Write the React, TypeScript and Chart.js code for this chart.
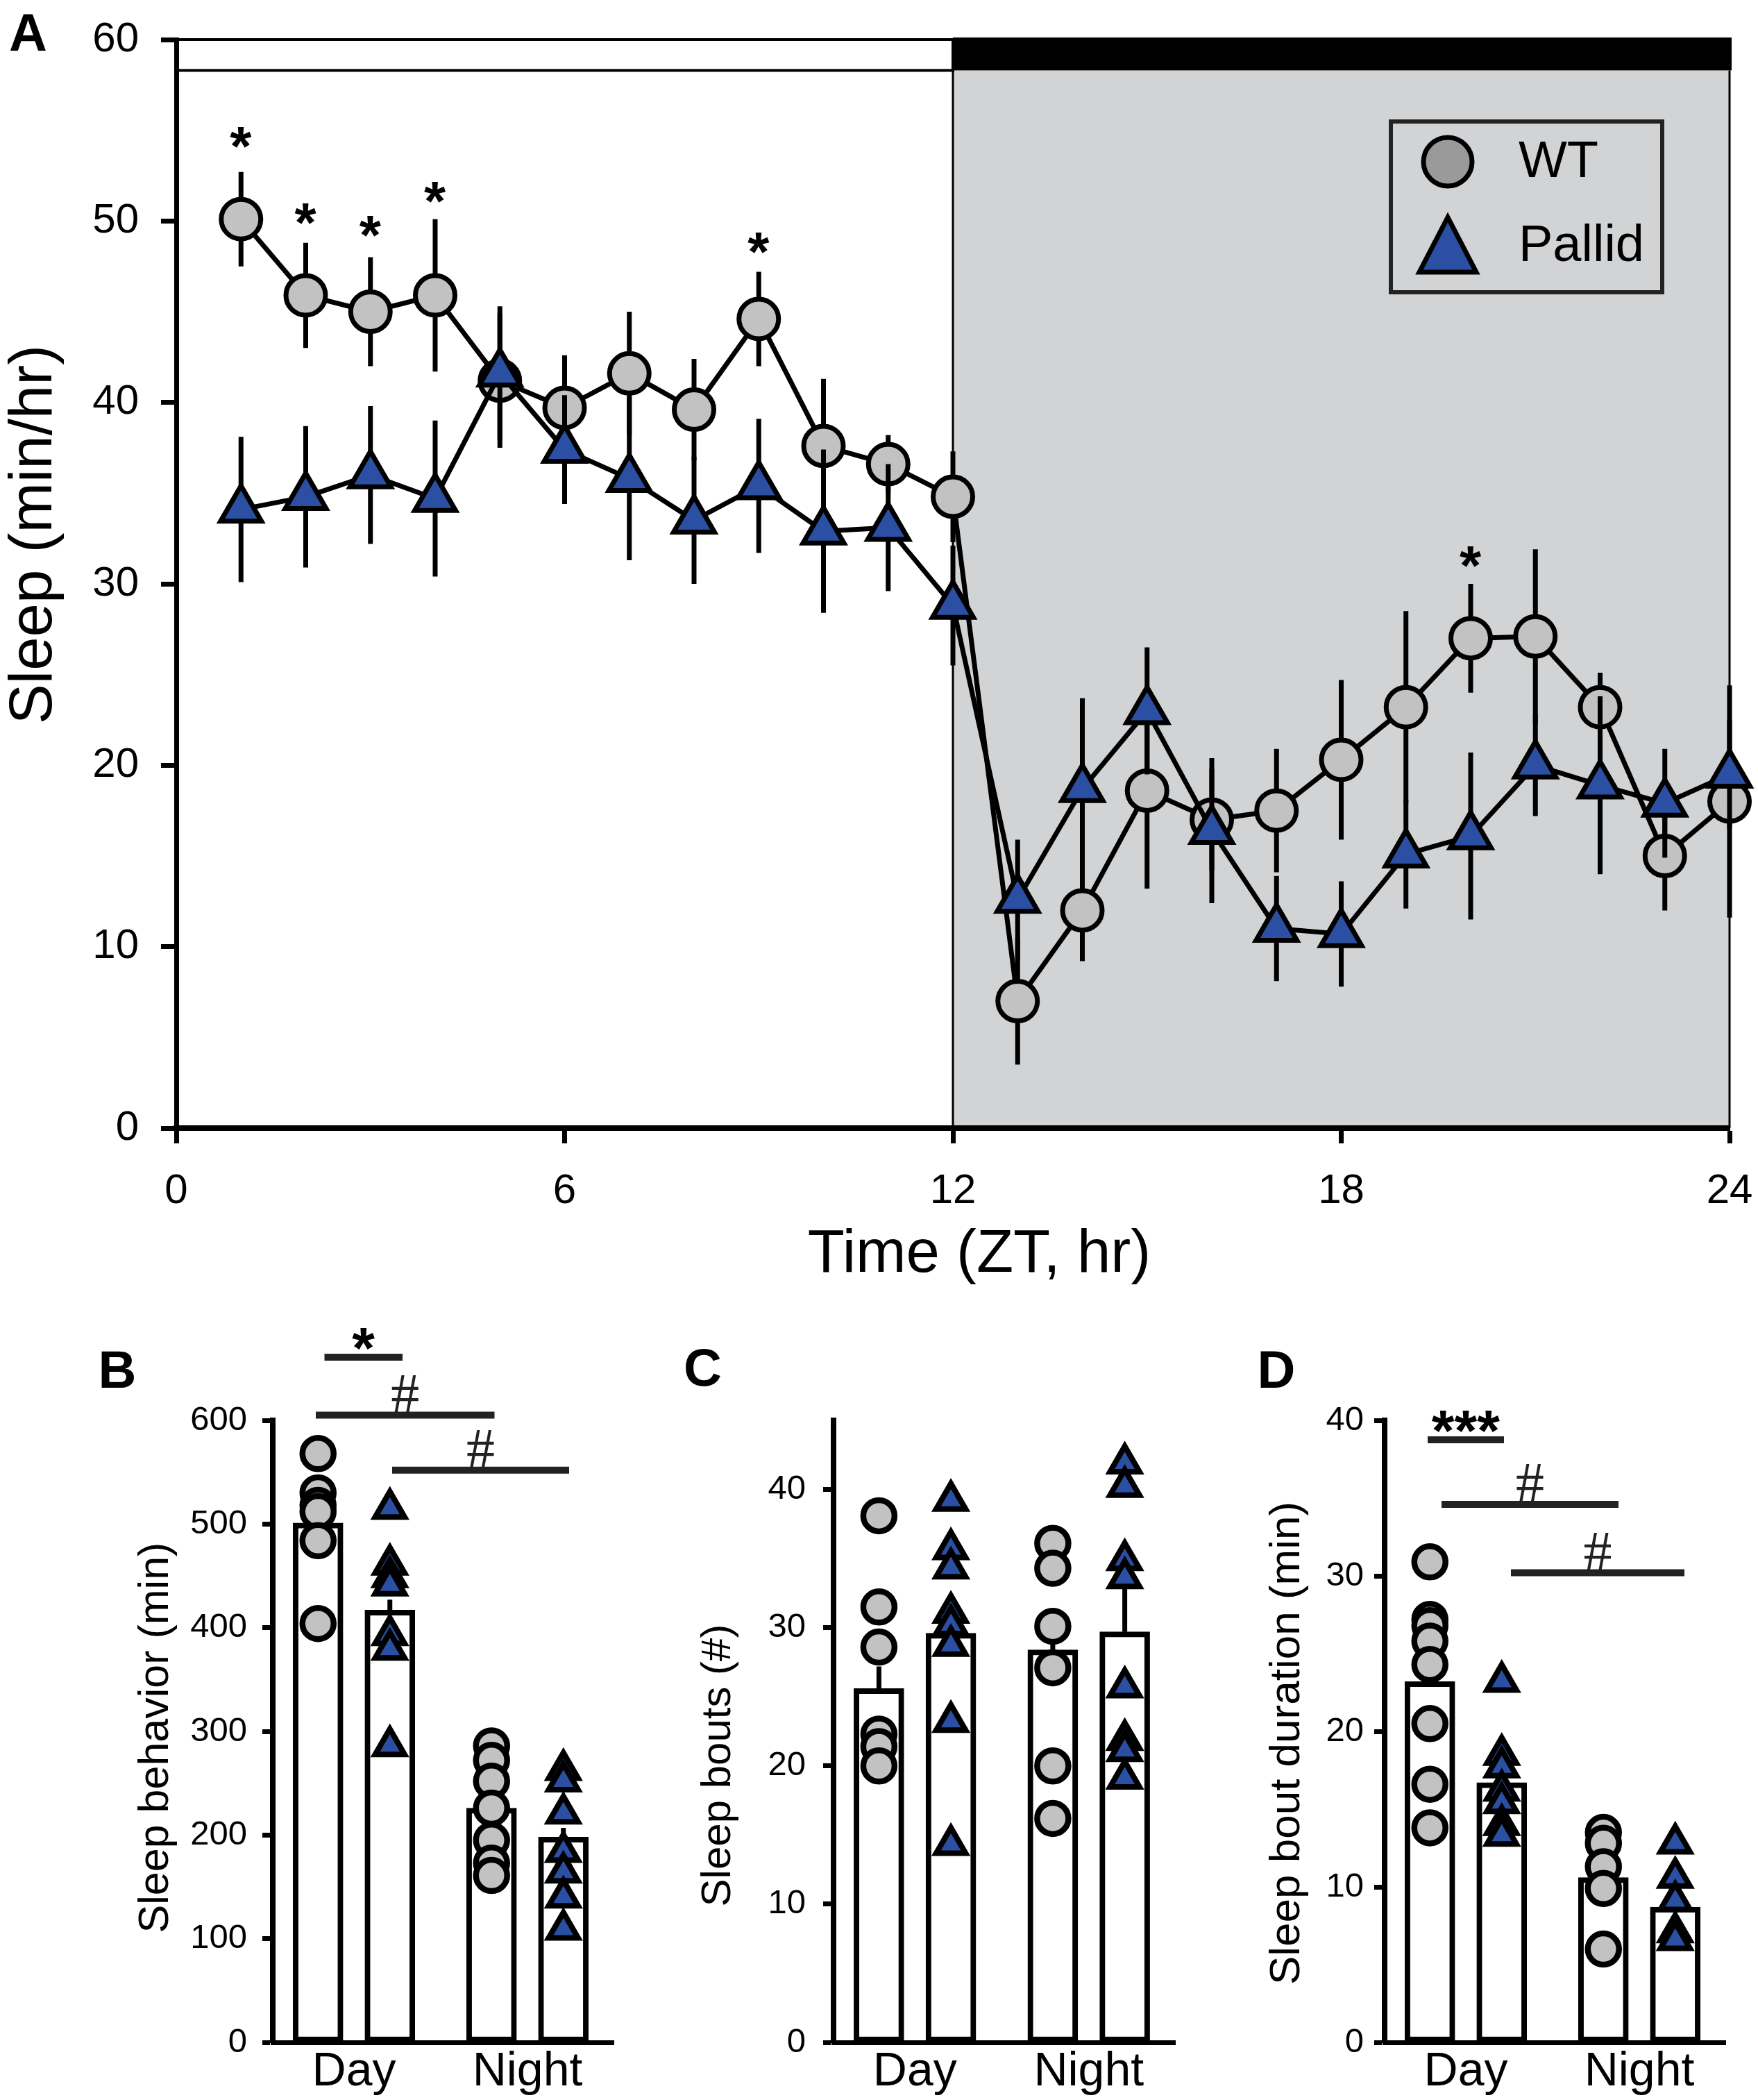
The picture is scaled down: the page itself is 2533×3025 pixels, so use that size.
import React, { useEffect, useRef } from 'react';
import { Chart, registerables } from 'chart.js';

Chart.register(...registerables);

// ================= Panel A : hourly sleep =================
const HOURS = [1, 2, 3, 4, 5, 6, 7, 8, 9, 10, 11, 12, 13, 14, 15, 16, 17, 18, 19, 20, 21, 22, 23, 24];
const WT_MEAN = [50.1, 45.9, 45.0, 45.9, 41.2, 39.7, 41.6, 39.6, 44.6, 37.6, 36.6, 34.8, 7.0, 12.0, 18.6, 17.0, 17.5, 20.3, 23.2, 27.0, 27.1, 23.2, 15.0, 18.0];
const WT_SEM = [2.6, 2.9, 3.0, 4.2, 3.7, 2.9, 3.4, 2.8, 2.6, 3.7, 1.6, 2.5, 3.5, 2.8, 5.4, 2.8, 3.4, 4.4, 5.3, 3.0, 4.8, 1.9, 3.0, 6.4];
const PALLID_MEAN = [34.1, 34.8, 36.0, 34.7, 41.6, 37.4, 35.8, 33.5, 35.4, 32.9, 33.1, 28.8, 12.6, 18.7, 23.0, 16.4, 11.0, 10.7, 15.1, 16.1, 20.0, 18.9, 17.9, 19.5];
const PALLID_SEM = [4.0, 3.9, 3.8, 4.3, 3.7, 3.0, 4.5, 3.5, 3.7, 4.5, 3.5, 3.3, 3.3, 5.0, 3.5, 4.0, 2.9, 2.9, 3.0, 4.6, 2.8, 4.9, 3.0, 3.0];
const A_X_TICKS = [0, 6, 12, 18, 24];
const A_Y_TICKS = [0, 10, 20, 30, 40, 50, 60];
const A_X_RANGE = [0, 24];
const A_Y_RANGE = [0, 60];
const LIGHTS_OFF = 12;
const LD_BAR_BOTTOM = 58.3;
const STAR_HOURS = [1, 2, 3, 4, 9, 20];
const STAR_LEVELS = [54.6, 50.4, 49.7, 51.6, 48.8, 31.5];
const SERIES_NAMES = ['WT', 'Pallid'];

// ================= Panels B-D : day / night summaries =================
const PERIODS = ['Day', 'Night'];

// B: Sleep behavior (min)
const B_Y_TICKS = [0, 100, 200, 300, 400, 500, 600];
const B_WT_BAR = [501, 226];
const B_WT_BAR_SEM = [18, 16];
const B_PALLID_BAR = [417, 198];
const B_PALLID_BAR_SEM = [10, 9];
const B_WT_DAY = [568, 530, 518, 512, 484, 404];
const B_WT_NIGHT = [286, 272, 252, 226, 195, 173, 161];
const B_PALLID_DAY = [515, 461, 449, 441, 393, 379, 286];
const B_PALLID_NIGHT = [263, 252, 221, 184, 164, 140, 109];
const B_SIG = [
  { from: -0.17, to: 0.28, level: 661, label: '*' },
  { from: -0.22, to: 0.81, level: 605, label: '#' },
  { from: 0.22, to: 1.24, level: 552, label: '#' },
];

// C: Sleep bouts (#)
const C_Y_TICKS = [0, 10, 20, 30, 40];
const C_WT_BAR = [25.6, 28.4];
const C_WT_BAR_SEM = [1.6, 0.5];
const C_PALLID_BAR = [29.6, 29.7];
const C_PALLID_BAR_SEM = [2.8, 3.1];
const C_WT_DAY = [38.1, 31.5, 28.6, 22.3, 21.4, 20.0];
const C_WT_NIGHT = [36.1, 34.3, 30.1, 27.1, 20.0, 16.2];
const C_PALLID_DAY = [39.2, 35.7, 34.3, 31.1, 30.2, 28.7, 23.2, 14.3];
const C_PALLID_NIGHT = [41.9, 40.2, 34.9, 33.6, 25.7, 21.9, 21.1, 19.1];
const C_SIG: { from: number; to: number; level: number; label: string }[] = [];

// D: Sleep bout duration (min)
const D_Y_TICKS = [0, 10, 20, 30, 40];
const D_WT_BAR = [23.2, 10.6];
const D_WT_BAR_SEM = [2.1, 1.3];
const D_PALLID_BAR = [16.7, 8.7];
const D_PALLID_BAR_SEM = [1.2, 1.0];
const D_WT_DAY = [30.9, 27.2, 26.8, 25.8, 24.3, 20.5, 16.6, 13.8];
const D_WT_NIGHT = [13.5, 12.8, 11.3, 9.9, 6.0];
const D_PALLID_DAY = [23.2, 18.5, 17.7, 16.2, 15.4, 14.0, 13.3];
const D_PALLID_NIGHT = [12.8, 10.6, 9.1, 7.1, 6.6];
const D_SIG = [
  { from: -0.22, to: 0.22, level: 38.75, label: '***' },
  { from: -0.14, to: 0.88, level: 34.6, label: '#' },
  { from: 0.26, to: 1.26, level: 30.2, label: '#' },
];

// ================= styles =================
const FONT = '"Liberation Sans", Arial, Helvetica, sans-serif';
const SERIF = '"Liberation Serif", "Times New Roman", serif';
const BLACK = '#000000';
const WT_FILL = '#c2c2c2';
const LEGEND_WT_FILL = '#9a9a9a';
const BLUE = '#2b4fa2';
const NIGHT_SHADE = '#d2d3d5';
const SIG_COLOR = '#222222';
const SERIES_OFFSET = 0.207;

Chart.defaults.font.family = FONT;
Chart.defaults.color = BLACK;

function glyphCentered(ctx: CanvasRenderingContext2D, text: string, cx: number, cy: number, font: string, color: string) {
  ctx.save();
  ctx.font = font;
  ctx.fillStyle = color;
  ctx.textAlign = 'left';
  ctx.textBaseline = 'alphabetic';
  const m = ctx.measureText(text);
  const L = m.actualBoundingBoxLeft, R = m.actualBoundingBoxRight;
  const A = m.actualBoundingBoxAscent, D = m.actualBoundingBoxDescent;
  ctx.fillText(text, cx - (R - L) / 2, cy - (D - A) / 2);
  ctx.restore();
}

// draws text horizontally centred on cx with its ink bottom sitting on y
function glyphOnLine(ctx: CanvasRenderingContext2D, text: string, cx: number, y: number, font: string, color: string) {
  ctx.save();
  ctx.font = font;
  ctx.fillStyle = color;
  ctx.textAlign = 'left';
  ctx.textBaseline = 'alphabetic';
  const m = ctx.measureText(text);
  const L = m.actualBoundingBoxLeft, R = m.actualBoundingBoxRight;
  ctx.fillText(text, cx - (R - L) / 2, y - m.actualBoundingBoxDescent);
  ctx.restore();
}

function rotatedTitle(ctx: CanvasRenderingContext2D, text: string, cx: number, cy: number, size: number) {
  ctx.save();
  ctx.translate(cx, cy);
  ctx.rotate(-Math.PI / 2);
  ctx.font = `${size}px ${FONT}`;
  ctx.fillStyle = BLACK;
  ctx.textAlign = 'center';
  ctx.textBaseline = 'middle';
  ctx.fillText(text, 0, 0);
  ctx.restore();
}

function noScalePadding(s: any) {
  s.paddingLeft = 0;
  s.paddingRight = 0;
  s.paddingTop = 0;
  s.paddingBottom = 0;
}

// ================= Panel A config =================
const A_CANVAS = { left: 0, top: 0, width: 2533, height: 1870 };
const A_MEANS = [WT_MEAN, PALLID_MEAN];
const A_ERRS = [WT_SEM, PALLID_SEM];

const panelAPlugin = {
  id: 'panelA',
  beforeDraw(chart: any) {
    const { ctx } = chart;
    const xs = chart.scales.x, ys = chart.scales.y;
    const xl = xs.getPixelForValue(A_X_RANGE[0]);
    const xo = xs.getPixelForValue(LIGHTS_OFF);
    const xr = xs.getPixelForValue(A_X_RANGE[1]);
    const yt = ys.getPixelForValue(A_Y_RANGE[1]);
    const yb = ys.getPixelForValue(LD_BAR_BOTTOM);
    const y0 = ys.getPixelForValue(A_Y_RANGE[0]);
    ctx.save();
    ctx.fillStyle = NIGHT_SHADE;
    ctx.fillRect(xo, yb, xr - xo, y0 - yb);
    ctx.strokeStyle = BLACK;
    ctx.lineWidth = 3;
    ctx.beginPath();
    ctx.moveTo(xo, yb); ctx.lineTo(xo, y0);
    ctx.moveTo(xr, yb); ctx.lineTo(xr, y0);
    ctx.stroke();
    ctx.fillStyle = '#ffffff';
    ctx.fillRect(xl, yt, xo - xl, yb - yt);
    ctx.lineWidth = 4;
    ctx.strokeRect(xl, yt, xo - xl, yb - yt);
    ctx.fillStyle = BLACK;
    ctx.fillRect(xo, yt - 3, xr - xo + 3, yb - yt + 3);
    ctx.restore();
  },
  beforeDatasetDraw(chart: any, args: any) {
    const { ctx } = chart;
    const xs = chart.scales.x, ys = chart.scales.y;
    const means = A_MEANS[args.index], errs = A_ERRS[args.index];
    ctx.save();
    ctx.strokeStyle = BLACK;
    ctx.lineWidth = 7;
    ctx.beginPath();
    HOURS.forEach((h, i) => {
      const px = xs.getPixelForValue(h);
      ctx.moveTo(px, ys.getPixelForValue(means[i] - errs[i]));
      ctx.lineTo(px, ys.getPixelForValue(means[i] + errs[i]));
    });
    ctx.stroke();
    ctx.restore();
  },
  afterDraw(chart: any) {
    const { ctx, chartArea } = chart;
    const xs = chart.scales.x, ys = chart.scales.y;
    // significance stars
    STAR_HOURS.forEach((h, i) => {
      glyphCentered(ctx, '*', xs.getPixelForValue(h), ys.getPixelForValue(STAR_LEVELS[i]), `bold 80px ${FONT}`, BLACK);
    });
    // legend
    ctx.save();
    ctx.strokeStyle = '#222222';
    ctx.lineWidth = 6;
    ctx.strokeRect(2004, 175, 391, 246);
    ctx.beginPath();
    ctx.arc(2086, 233, 35, 0, Math.PI * 2);
    ctx.fillStyle = LEGEND_WT_FILL;
    ctx.fill();
    ctx.lineWidth = 7;
    ctx.strokeStyle = BLACK;
    ctx.stroke();
    ctx.beginPath();
    ctx.moveTo(2086, 313);
    ctx.lineTo(2127, 392);
    ctx.lineTo(2045, 392);
    ctx.closePath();
    ctx.fillStyle = BLUE;
    ctx.fill();
    ctx.lineJoin = 'miter';
    ctx.stroke();
    ctx.fillStyle = BLACK;
    ctx.font = `74px ${FONT}`;
    ctx.textAlign = 'left';
    ctx.textBaseline = 'middle';
    ctx.fillText(SERIES_NAMES[0], 2188, 235);
    ctx.fillText(SERIES_NAMES[1], 2188, 356);
    ctx.restore();
    // axis titles
    rotatedTitle(ctx, 'Sleep (min/hr)', chartArea.left - 204, (chartArea.top + chartArea.bottom) / 2 - 71, 87);
    ctx.save();
    ctx.font = `87px ${FONT}`;
    ctx.fillStyle = BLACK;
    ctx.textAlign = 'center';
    ctx.textBaseline = 'middle';
    ctx.fillText('Time (ZT, hr)', (chartArea.left + chartArea.right) / 2 + 38, chartArea.bottom + 183);
    ctx.restore();
    // panel letter
    glyphCentered(ctx, 'A', 40 - A_CANVAS.left, 46 - A_CANVAS.top, `bold 76px ${FONT}`, BLACK);
  },
};

function makeAConfig(): any {
  return {
    type: 'scatter',
    data: {
      datasets: [
        {
          label: SERIES_NAMES[0],
          data: HOURS.map((h, i) => ({ x: h, y: WT_MEAN[i] })),
          showLine: true,
          borderColor: BLACK,
          borderWidth: 7,
          borderJoinStyle: 'round',
          tension: 0,
          pointStyle: 'circle',
          pointRadius: 28.5,
          pointBorderWidth: 7,
          pointBackgroundColor: WT_FILL,
          pointBorderColor: BLACK,
          order: 2,
          clip: false,
        },
        {
          label: SERIES_NAMES[1],
          data: HOURS.map((h, i) => ({ x: h, y: PALLID_MEAN[i] })),
          showLine: true,
          borderColor: BLACK,
          borderWidth: 7,
          borderJoinStyle: 'round',
          tension: 0,
          pointStyle: 'triangle',
          pointRadius: 34,
          pointBorderWidth: 7,
          pointBackgroundColor: BLUE,
          pointBorderColor: BLACK,
          order: 1,
          clip: false,
        },
      ],
    },
    options: {
      responsive: false,
      animation: false,
      devicePixelRatio: 1,
      events: [],
      layout: { padding: { left: 0, top: 57, right: 38, bottom: 0 } },
      plugins: { legend: { display: false }, tooltip: { enabled: false } },
      scales: {
        x: {
          type: 'linear',
          min: A_X_RANGE[0],
          max: A_X_RANGE[1],
          afterBuildTicks: (s: any) => { s.ticks = A_X_TICKS.map((v) => ({ value: v })); },
          afterFit: (s: any) => { s.height = A_CANVAS.height - 1625; noScalePadding(s); },
          ticks: { font: { size: 60, family: FONT }, color: BLACK, padding: 33, maxRotation: 0, autoSkip: false },
          grid: { drawOnChartArea: false, drawTicks: true, tickLength: 22, tickWidth: 7, tickColor: BLACK },
          border: { display: true, width: 8, color: BLACK },
        },
        y: {
          type: 'linear',
          min: A_Y_RANGE[0],
          max: A_Y_RANGE[1],
          afterBuildTicks: (s: any) => { s.ticks = A_Y_TICKS.map((v) => ({ value: v })); },
          afterFit: (s: any) => { s.width = 254; noScalePadding(s); },
          ticks: { font: { size: 60, family: FONT }, color: BLACK, padding: 32, autoSkip: false },
          grid: { drawOnChartArea: false, drawTicks: true, tickLength: 22, tickWidth: 7, tickColor: BLACK },
          border: { display: true, width: 7, color: BLACK },
        },
      },
    },
    plugins: [panelAPlugin],
  };
}

// ================= Bar panels config =================
type Sig = { from: number; to: number; level: number; label: string };
type BarSpec = {
  canvas: { left: number; top: number; width: number; height: number };
  axisLeft: number;
  axisRight: number;
  yMax: number;
  yTicks: number[];
  tickPad: number;
  wtBars: number[];
  wtSem: number[];
  paBars: number[];
  paSem: number[];
  wtDay: number[];
  wtNight: number[];
  paDay: number[];
  paNight: number[];
  sig: Sig[];
  title: string;
  titleX: number;
  titleDy: number;
  titleSize: number;
  letter: string;
  letterX: number;
  letterY: number;
};

const BAR_TOP = 2046;
const BAR_BOTTOM = 2942;
const PANEL_TOP = 1870;
const SIG_LINE_WIDTH = 10;

const PANEL_B: BarSpec = {
  canvas: { left: 0, top: PANEL_TOP, width: 920, height: 3025 - PANEL_TOP },
  axisLeft: 393, axisRight: 884, yMax: 600, yTicks: B_Y_TICKS, tickPad: 22,
  wtBars: B_WT_BAR, wtSem: B_WT_BAR_SEM, paBars: B_PALLID_BAR, paSem: B_PALLID_BAR_SEM,
  wtDay: B_WT_DAY, wtNight: B_WT_NIGHT, paDay: B_PALLID_DAY, paNight: B_PALLID_NIGHT,
  sig: B_SIG, title: 'Sleep behavior (min)', titleX: 225, titleDy: 9, titleSize: 61,
  letter: 'B', letterX: 170, letterY: 1972,
};
const PANEL_C: BarSpec = {
  canvas: { left: 920, top: PANEL_TOP, width: 840, height: 3025 - PANEL_TOP },
  axisLeft: 1201, axisRight: 1693, yMax: 45, yTicks: C_Y_TICKS, tickPad: 25,
  wtBars: C_WT_BAR, wtSem: C_WT_BAR_SEM, paBars: C_PALLID_BAR, paSem: C_PALLID_BAR_SEM,
  wtDay: C_WT_DAY, wtNight: C_WT_NIGHT, paDay: C_PALLID_DAY, paNight: C_PALLID_NIGHT,
  sig: C_SIG, title: 'Sleep bouts (#)', titleX: 1035, titleDy: 49, titleSize: 60,
  letter: 'C', letterX: 1013, letterY: 1970,
};
const PANEL_D: BarSpec = {
  canvas: { left: 1760, top: PANEL_TOP, width: 773, height: 3025 - PANEL_TOP },
  axisLeft: 1995, axisRight: 2486, yMax: 40, yTicks: D_Y_TICKS, tickPad: 15,
  wtBars: D_WT_BAR, wtSem: D_WT_BAR_SEM, paBars: D_PALLID_BAR, paSem: D_PALLID_BAR_SEM,
  wtDay: D_WT_DAY, wtNight: D_WT_NIGHT, paDay: D_PALLID_DAY, paNight: D_PALLID_NIGHT,
  sig: D_SIG, title: 'Sleep bout duration (min)', titleX: 1855, titleDy: 17, titleSize: 62,
  letter: 'D', letterX: 1840, letterY: 1972,
};

function barPlugin(spec: BarSpec) {
  return {
    id: 'barPanel',
    afterDatasetDraw(chart: any, args: any) {
      if (args.index > 1) return;
      const means = args.index === 0 ? spec.wtBars : spec.paBars;
      const sems = args.index === 0 ? spec.wtSem : spec.paSem;
      const ys = chart.scales.y;
      const { ctx } = chart;
      ctx.save();
      ctx.strokeStyle = BLACK;
      ctx.lineWidth = 7;
      ctx.beginPath();
      args.meta.data.forEach((el: any, i: number) => {
        ctx.moveTo(el.x, ys.getPixelForValue(means[i]));
        ctx.lineTo(el.x, ys.getPixelForValue(means[i] + sems[i]));
      });
      ctx.stroke();
      ctx.restore();
    },
    afterDraw(chart: any) {
      const { ctx, chartArea } = chart;
      const xs = chart.scales.x, ys = chart.scales.y;
      spec.sig.forEach((s) => {
        const x1 = xs.getPixelForValue(s.from), x2 = xs.getPixelForValue(s.to);
        const y = ys.getPixelForValue(s.level);
        ctx.save();
        ctx.strokeStyle = SIG_COLOR;
        ctx.lineWidth = SIG_LINE_WIDTH;
        ctx.beginPath();
        ctx.moveTo(x1, y);
        ctx.lineTo(x2, y);
        ctx.stroke();
        ctx.restore();
        if (s.label === '#') {
          glyphOnLine(ctx, '#', (x1 + x2) / 2, y - SIG_LINE_WIDTH / 2 + 1, `82px ${SERIF}`, SIG_COLOR);
        } else {
          glyphCentered(ctx, s.label, (x1 + x2) / 2, y - 26, `bold 84px ${FONT}`, BLACK);
        }
      });
      rotatedTitle(ctx, spec.title, spec.titleX - spec.canvas.left, (chartArea.top + chartArea.bottom) / 2 + spec.titleDy, spec.titleSize);
      glyphCentered(ctx, spec.letter, spec.letterX - spec.canvas.left, spec.letterY - spec.canvas.top, `bold 76px ${FONT}`, BLACK);
    },
  };
}

function makeBarConfig(spec: BarSpec): any {
  const pos = PERIODS.map((_, i) => i);
  const barCommon = {
    type: 'bar',
    backgroundColor: '#ffffff',
    borderColor: BLACK,
    borderWidth: 8,
    borderSkipped: false,
    barThickness: 72,
    grouped: false,
    order: 3,
  };
  const pts = (day: number[], night: number[], off: number) => [
    ...day.map((v) => ({ x: pos[0] + off, y: v })),
    ...night.map((v) => ({ x: pos[1] + off, y: v })),
  ];
  return {
    type: 'bar',
    data: {
      datasets: [
        { ...barCommon, label: SERIES_NAMES[0], data: pos.map((p, i) => ({ x: p - SERIES_OFFSET, y: spec.wtBars[i] })) },
        { ...barCommon, label: SERIES_NAMES[1], data: pos.map((p, i) => ({ x: p + SERIES_OFFSET, y: spec.paBars[i] })) },
        {
          type: 'scatter', label: SERIES_NAMES[0] + ' animals',
          data: pts(spec.wtDay, spec.wtNight, -SERIES_OFFSET),
          pointStyle: 'circle', pointRadius: 22.5, pointBorderWidth: 8.5,
          pointBackgroundColor: WT_FILL, pointBorderColor: BLACK, order: 2, clip: false,
        },
        {
          type: 'scatter', label: SERIES_NAMES[1] + ' animals',
          data: pts(spec.paDay, spec.paNight, SERIES_OFFSET),
          pointStyle: 'triangle', pointRadius: 24.5, pointBorderWidth: 8,
          pointBackgroundColor: BLUE, pointBorderColor: BLACK, order: 1, clip: false,
        },
      ],
    },
    options: {
      responsive: false,
      animation: false,
      devicePixelRatio: 1,
      events: [],
      layout: {
        padding: {
          left: 0,
          top: BAR_TOP - spec.canvas.top,
          right: spec.canvas.left + spec.canvas.width - spec.axisRight,
          bottom: 0,
        },
      },
      plugins: { legend: { display: false }, tooltip: { enabled: false } },
      scales: {
        x: {
          type: 'linear',
          min: -0.468,
          max: 1.496,
          offset: false,
          afterBuildTicks: (s: any) => { s.ticks = pos.map((v) => ({ value: v })); },
          afterFit: (s: any) => { s.height = spec.canvas.top + spec.canvas.height - BAR_BOTTOM; noScalePadding(s); },
          ticks: {
            font: { size: 68, family: FONT }, color: BLACK, padding: 2, maxRotation: 0, autoSkip: false,
            callback: (_v: any, i: number) => PERIODS[i],
          },
          grid: { display: true, drawOnChartArea: false, drawTicks: false, offset: false },
          border: { display: true, width: 7, color: BLACK },
        },
        y: {
          type: 'linear',
          min: 0,
          max: spec.yMax,
          afterBuildTicks: (s: any) => { s.ticks = spec.yTicks.map((v) => ({ value: v })); },
          afterFit: (s: any) => { s.width = spec.axisLeft - spec.canvas.left; noScalePadding(s); },
          ticks: { font: { size: 49, family: FONT }, color: BLACK, padding: spec.tickPad, autoSkip: false },
          grid: { drawOnChartArea: false, drawTicks: true, tickLength: 15, tickWidth: 7, tickColor: BLACK },
          border: { display: true, width: 8, color: BLACK },
        },
      },
    },
    plugins: [barPlugin(spec)],
  };
}

function canvasStyle(c: { left: number; top: number; width: number; height: number }): React.CSSProperties {
  return { position: 'absolute', left: c.left, top: c.top, width: c.width, height: c.height };
}

export default function App() {
  const aRef = useRef<HTMLCanvasElement>(null);
  const bRef = useRef<HTMLCanvasElement>(null);
  const cRef = useRef<HTMLCanvasElement>(null);
  const dRef = useRef<HTMLCanvasElement>(null);

  useEffect(() => {
    const charts: Chart[] = [];
    if (aRef.current) charts.push(new Chart(aRef.current, makeAConfig()));
    if (bRef.current) charts.push(new Chart(bRef.current, makeBarConfig(PANEL_B)));
    if (cRef.current) charts.push(new Chart(cRef.current, makeBarConfig(PANEL_C)));
    if (dRef.current) charts.push(new Chart(dRef.current, makeBarConfig(PANEL_D)));
    return () => charts.forEach((c) => c.destroy());
  }, []);

  return (
    <div style={{ position: 'absolute', left: 0, top: 0, width: 2533, height: 3025, background: '#ffffff', overflow: 'hidden' }}>
      <canvas ref={aRef} width={A_CANVAS.width} height={A_CANVAS.height} style={canvasStyle(A_CANVAS)} />
      <canvas ref={bRef} width={PANEL_B.canvas.width} height={PANEL_B.canvas.height} style={canvasStyle(PANEL_B.canvas)} />
      <canvas ref={cRef} width={PANEL_C.canvas.width} height={PANEL_C.canvas.height} style={canvasStyle(PANEL_C.canvas)} />
      <canvas ref={dRef} width={PANEL_D.canvas.width} height={PANEL_D.canvas.height} style={canvasStyle(PANEL_D.canvas)} />
    </div>
  );
}
